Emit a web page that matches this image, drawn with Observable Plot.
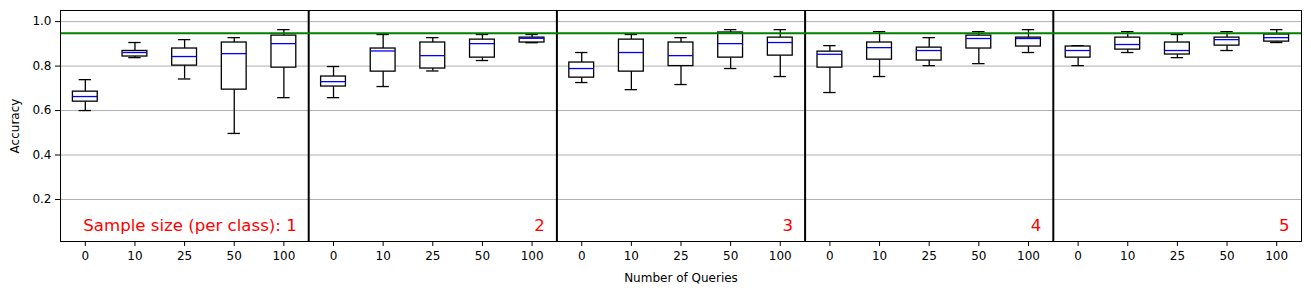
<!DOCTYPE html>
<html><head><meta charset="utf-8">
<script src="https://cdn.jsdelivr.net/npm/d3@7"></script>
<script src="https://cdn.jsdelivr.net/npm/@observablehq/plot@0.6"></script>
<style>body{margin:0;background:#fff}</style>
</head><body><div id="chart"></div>
<script>
const queries = ["0", "10", "25", "50", "100"];
const sampleSizes = [1, 2, 3, 4, 5];
const panelLabels = ["Sample size (per class): 1", "2", "3", "4", "5"];
const referenceAccuracy = 0.948;
const yTicks = [0.2, 0.4, 0.6, 0.8, 1.0];
// one row per sample size, one value per query count
const whiskerLow = [
  [0.600, 0.838, 0.742, 0.497, 0.658],
  [0.658, 0.708, 0.778, 0.825, 0.905],
  [0.726, 0.694, 0.717, 0.789, 0.753],
  [0.681, 0.753, 0.802, 0.811, 0.861],
  [0.802, 0.861, 0.838, 0.870, 0.906]
];
const quartile1 = [
  [0.640, 0.843, 0.802, 0.694, 0.793],
  [0.708, 0.775, 0.789, 0.838, 0.906],
  [0.748, 0.775, 0.800, 0.838, 0.847],
  [0.793, 0.829, 0.825, 0.879, 0.888],
  [0.838, 0.874, 0.852, 0.892, 0.910]
];
const medians = [
  [0.663, 0.861, 0.843, 0.856, 0.901],
  [0.730, 0.868, 0.847, 0.901, 0.925],
  [0.789, 0.861, 0.847, 0.901, 0.906],
  [0.853, 0.883, 0.870, 0.924, 0.924],
  [0.870, 0.897, 0.870, 0.919, 0.928]
];
const quartile3 = [
  [0.685, 0.868, 0.879, 0.906, 0.937],
  [0.753, 0.879, 0.906, 0.919, 0.928],
  [0.816, 0.919, 0.906, 0.951, 0.928],
  [0.865, 0.906, 0.883, 0.937, 0.928],
  [0.888, 0.928, 0.906, 0.928, 0.942]
];
const whiskerHigh = [
  [0.739, 0.906, 0.919, 0.928, 0.964],
  [0.798, 0.942, 0.928, 0.942, 0.942],
  [0.861, 0.942, 0.928, 0.964, 0.964],
  [0.892, 0.955, 0.928, 0.955, 0.964],
  [0.892, 0.955, 0.942, 0.955, 0.964]
];

const rows = [];
sampleSizes.forEach((s, si) => {
  queries.forEach((q, qi) => {
    rows.push({
      pos: si * queries.length + qi,
      low: whiskerLow[si][qi], q1: quartile1[si][qi], med: medians[si][qi],
      q3: quartile3[si][qi], high: whiskerHigh[si][qi]
    });
  });
});
const n = rows.length;
const separators = sampleSizes.slice(1).map((s, i) => (i + 1) * queries.length - 0.5);
const labelRows = panelLabels.map((t, i) => ({t, x: (i + 1) * queries.length - 0.5}));
const boxHalf = 0.25, capHalf = 0.125;

const chart = Plot.plot({
  width: 1311,
  height: 298,
  marginLeft: 60,
  marginRight: 10,
  marginTop: 10,
  marginBottom: 57,
  style: {fontFamily: "DejaVu Sans", fontSize: "12px", color: "black", background: "white"},
  x: {
    type: "linear",
    domain: [-0.5, n - 0.5],
    ticks: d3.range(n),
    tickFormat: i => queries[i % queries.length],
    tickSize: 5,
    tickPadding: 5,
    label: "Number of Queries",
    labelAnchor: "center",
    labelArrow: "none",
    labelOffset: 40
  },
  y: {
    domain: [0.011, 1.05],
    ticks: yTicks,
    tickFormat: d => d.toFixed(1),
    tickSize: 5,
    tickPadding: 4,
    label: "Accuracy",
    labelAnchor: "center",
    labelArrow: "none",
    labelOffset: 50
  },
  marks: [
    Plot.gridY(yTicks, {stroke: "#b0b0b0", strokeOpacity: 1, strokeWidth: 1}),
    Plot.ruleX(rows, {x: "pos", y1: "low", y2: "q1", stroke: "black", strokeWidth: 1.3}),
    Plot.ruleX(rows, {x: "pos", y1: "q3", y2: "high", stroke: "black", strokeWidth: 1.3}),
    Plot.ruleY(rows, {y: "low", x1: d => d.pos - capHalf, x2: d => d.pos + capHalf, stroke: "black", strokeWidth: 1.3}),
    Plot.ruleY(rows, {y: "high", x1: d => d.pos - capHalf, x2: d => d.pos + capHalf, stroke: "black", strokeWidth: 1.3}),
    Plot.rect(rows, {x1: d => d.pos - boxHalf, x2: d => d.pos + boxHalf, y1: "q1", y2: "q3", fill: "white", stroke: "black", strokeWidth: 1.3}),
    Plot.ruleY(rows, {y: "med", x1: d => d.pos - boxHalf, x2: d => d.pos + boxHalf, stroke: "blue", strokeWidth: 1.3}),
    Plot.ruleX(separators, {stroke: "black", strokeWidth: 2}),
    Plot.ruleY([referenceAccuracy], {stroke: "green", strokeWidth: 2}),
    Plot.text(labelRows, {x: "x", text: "t", frameAnchor: "bottom", textAnchor: "end", dx: -12, dy: -16, fill: "red", fontSize: 16.6, lineAnchor: "middle"}),
    Plot.frame({stroke: "black", strokeWidth: 1})
  ]
});
document.getElementById("chart").appendChild(chart);
</script>
</body></html>
